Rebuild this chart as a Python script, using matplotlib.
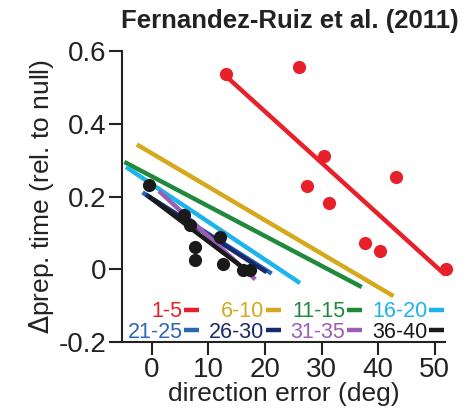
import matplotlib
matplotlib.use("Agg")
import matplotlib.pyplot as plt
from matplotlib.lines import Line2D

plt.rcParams["font.family"] = ["Liberation Sans", "DejaVu Sans"]

# fitted lines per bin (start/end)
BINS = ["1-5", "6-10", "11-15", "16-20", "21-25", "26-30", "31-35", "36-40"]
COLORS = ["#e8202a", "#d6a81c", "#1f8a3c", "#1cb4ea", "#2a67b5", "#172a6e", "#9a5fb4", "#1a1a1a"]
LINE_X0 = [13.2, -2.6, -4.8, -4.5, -1.6, -1.0, 1.3, -0.5]
LINE_X1 = [51.8, 42.7, 37.1, 26.2, 21.2, 20.3, 18.3, 17.0]
LINE_Y0 = [0.530, 0.343, 0.295, 0.281, 0.211, 0.205, 0.215, 0.200]
LINE_Y1 = [-0.015, -0.074, -0.049, -0.038, -0.012, -0.008, -0.028, -0.006]

# data points of first bin (red) and last bin (black)
RED_X = [13.2, 26.0, 30.5, 27.5, 31.3, 43.2, 37.7, 40.3, 52.0]
RED_Y = [0.536, 0.555, 0.312, 0.229, 0.183, 0.254, 0.073, 0.049, 0.002]
BLACK_X = [-0.4, 5.8, 6.7, 12.1, 7.7, 7.7, 12.6, 16.1, 17.4]
BLACK_Y = [0.233, 0.149, 0.121, 0.089, 0.060, 0.025, 0.014, -0.003, -0.001]


def main():
    fig = plt.figure(figsize=(4.77, 4.15), dpi=100)
    ax = fig.add_axes([0.256, 0.176, 0.677, 0.701])

    handles = []
    for name, c, x0, x1, y0, y1 in zip(BINS, COLORS, LINE_X0, LINE_X1, LINE_Y0, LINE_Y1):
        ax.plot([x0, x1], [y0, y1], color=c, lw=3.2, solid_capstyle="butt", clip_on=False)
        handles.append(Line2D([], [], color=c, lw=3.2, solid_capstyle="butt", label=name))

    ax.plot(RED_X, RED_Y, "o", color=COLORS[0], ms=9.5, mec="none", clip_on=False, zorder=3)
    ax.plot(BLACK_X, BLACK_Y, "o", color=COLORS[-1], ms=9.5, mec="none", clip_on=False, zorder=3)

    ax.set_xlim(-5.2, 51.8)
    ax.set_ylim(-0.2, 0.6)
    ax.set_xticks([0, 10, 20, 30, 40, 50])
    ax.set_yticks([-0.2, 0, 0.2, 0.4, 0.6])
    ax.set_yticklabels(["-0.2", "0", "0.2", "0.4", "0.6"])
    for s in ["top", "right"]:
        ax.spines[s].set_visible(False)
    for s in ["left", "bottom"]:
        ax.spines[s].set_linewidth(1.5)
        ax.spines[s].set_color("#222222")
    ax.tick_params(length=9.5, width=1.5, labelsize=20, color="#222222", labelcolor="#222222", pad=1.5)

    ax.set_xlabel("direction error (deg)", fontsize=19, color="#222222", labelpad=-1)
    ax.set_ylabel(r"$\Delta$prep. time (rel. to null)", fontsize=19, color="#222222", labelpad=2)
    fig.text(0.607, 0.932, "Fernandez-Ruiz et al. (2011)", fontsize=18.5, fontweight="bold",
             color="#222222", ha="center", va="baseline")

    # legend: 4 columns filled column-wise, label then short colored dash
    order = [0, 4, 1, 5, 2, 6, 3, 7]
    ax.legend([handles[i] for i in order], [BINS[i] for i in order],
              ncol=4, markerfirst=False, frameon=False, fontsize=15.5,
              handlelength=0.7, handletextpad=0.08, columnspacing=0.45,
              labelspacing=-0.02, borderpad=0, labelcolor="linecolor",
              loc="lower right", bbox_to_anchor=(1.03, -0.04))

    fig.savefig("out.png", dpi=100)
    plt.close(fig)


if __name__ == "__main__":
    main()
